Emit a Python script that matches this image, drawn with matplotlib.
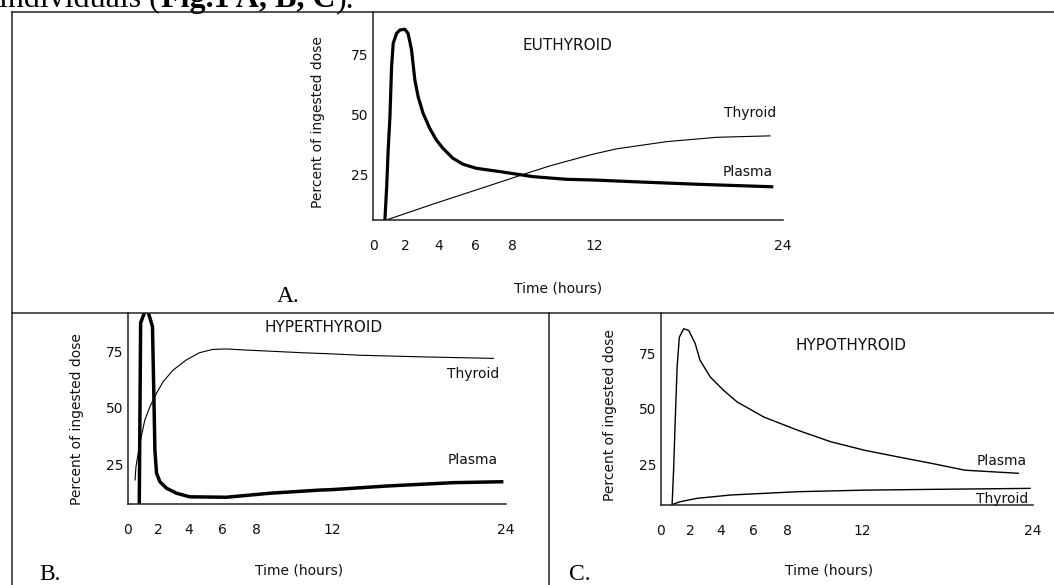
import numpy as np
import matplotlib
matplotlib.use("Agg")
import matplotlib.pyplot as plt
from matplotlib.lines import Line2D

plt.rcParams['font.family'] = ['DejaVu Sans']

# ---- data (hours, percent of ingested dose) ----
HOUR_TICKS = [0, 2, 4, 6, 8, 12, 24]
PCT_TICKS = [25, 50, 75]

eu_plasma_h = [0.73, 0.84, 0.93, 1.04, 1.14, 1.24, 1.45, 1.65, 1.95, 2.15, 2.36, 2.56, 2.76,
               3.06, 3.46, 3.86, 4.24, 4.78, 5.33, 6.06, 7.32, 9.0, 10.64, 12.0, 14.48, 18.72, 23.28]
eu_plasma = [6.3, 20.1, 35.4, 49.3, 70.1, 79.9, 84.0, 85.4, 85.7, 84.0, 77.1, 64.6, 57.6,
             50.7, 44.5, 39.6, 36.1, 32.0, 29.5, 27.8, 26.4, 24.3, 23.2, 22.9, 22.2, 21.1, 20.1]
eu_thyroid_h = [0.84, 3.63, 6.42, 8.68, 9.82, 11.46, 12.0, 13.42, 16.6, 19.78, 23.17]
eu_thyroid = [6.3, 12.8, 19.7, 25.7, 28.8, 32.6, 33.8, 35.9, 38.9, 40.7, 41.3]

hyper_plasma_h = [0.75, 0.84, 1.24, 1.63, 1.74, 1.79, 1.90, 2.12, 2.56, 3.21, 4.07, 6.24,
                  8.7, 11.36, 12.0, 15.77, 20.37, 23.7]
hyper_plasma = [7.1, 87.8, 95.0, 86.1, 49.0, 31.2, 20.9, 17.1, 14.2, 12.0, 10.4, 10.2,
                12.0, 13.4, 13.6, 15.2, 16.7, 17.1]
hyper_thyroid_h = [0.47, 0.53, 0.79, 1.12, 1.46, 1.90, 2.33, 2.99, 3.86, 4.64, 5.45, 6.24,
                   7.41, 10.47, 12.0, 13.93, 18.07, 23.13]
hyper_thyroid = [17.9, 23.8, 34.2, 44.6, 50.5, 56.5, 61.6, 66.8, 71.3, 74.5, 76.0, 76.2,
                 75.7, 74.5, 74.0, 73.4, 72.7, 72.0]

hypo_plasma_h = [0.75, 0.86, 0.97, 1.09, 1.24, 1.53, 1.88, 2.1, 2.31, 2.63, 3.32, 4.19, 5.0,
                 6.59, 8.54, 10.33, 12.18, 14.53, 16.87, 19.22, 22.97]
hypo_plasma = [6.7, 23.9, 46.4, 68.9, 82.4, 86.2, 85.4, 82.4, 79.5, 72.0, 64.4, 58.4, 53.2,
               46.4, 40.4, 35.2, 31.4, 28.4, 25.5, 22.4, 21.0]
hypo_thyroid_h = [0.75, 1.31, 2.43, 4.6, 8.54, 12.18, 16.87, 23.79]
hypo_thyroid = [6.9, 8.2, 9.7, 11.2, 12.7, 13.4, 13.75, 14.2]

# the original time axis is not linear: 0-8 h spread out, 12 and 24 squeezed
AXIS_FRAC = [0, 0.0795, 0.160, 0.249, 0.341, 0.540, 1.0]


def fwd(h):
    return np.interp(h, HOUR_TICKS, AXIS_FRAC)


def inv(f):
    return np.interp(f, AXIS_FRAC, HOUR_TICKS)


W, H = 1054, 585
fig = plt.figure(figsize=(W / 100, H / 100), dpi=100)


def px(x, y):
    return x / W, 1 - y / H


def panel(left, right, top, bottom, ylim):
    ax = fig.add_axes([left / W, 1 - bottom / H, (right - left) / W, (bottom - top) / H])
    ax.set_facecolor('none')
    ax.set_xscale('function', functions=(fwd, inv))
    ax.set_xlim(0, 24)
    ax.set_ylim(*ylim)
    ax.set_xticks(HOUR_TICKS)
    ax.set_xticklabels([str(t) for t in HOUR_TICKS])
    ax.set_yticks(PCT_TICKS)
    ax.minorticks_off()
    ax.tick_params(length=0, labelsize=10, colors='#111')
    ax.tick_params(axis='x', pad=14)
    ax.tick_params(axis='y', pad=3)
    for s in ['top', 'right']:
        ax.spines[s].set_visible(False)
    for s in ['left', 'bottom']:
        ax.spines[s].set_linewidth(1.1)
        ax.spines[s].set_color('#222')
    return ax


# A. euthyroid
axA = panel(373, 783, 12, 220, (6.25, 92.9))
axA.plot(eu_plasma_h, eu_plasma, color='black', lw=2.3, solid_joinstyle='round')
axA.plot(eu_thyroid_h, eu_thyroid, color='black', lw=0.8)

# B. hyperthyroid
axB = panel(128, 506, 313, 504, (7.2, 92.2))
axB.plot(hyper_plasma_h, hyper_plasma, color='black', lw=2.5, solid_joinstyle='round')
axB.plot(hyper_thyroid_h, hyper_thyroid, color='black', lw=0.8)

# C. hypothyroid
axC = panel(661, 1033, 313, 505, (6.7, 93.3))
axC.plot(hypo_plasma_h, hypo_plasma, color='black', lw=1.0)
axC.plot(hypo_thyroid_h, hypo_thyroid, color='black', lw=1.0)

# texts
for (x, y, s) in [(567, 46, "EUTHYROID"), (324, 327, "HYPERTHYROID"), (851, 345, "HYPOTHYROID")]:
    fig.text(*px(x, y), s, fontsize=11, ha='center', va='center', color='#111')

for (x, y, s) in [(750, 113, "Thyroid"), (748, 172, "Plasma"),
                  (473, 374, "Thyroid"), (473, 460, "Plasma"),
                  (1002, 461, "Plasma"), (1002, 499, "Thyroid"),
                  (558, 288, "Time (hours)"), (299, 570, "Time (hours)"), (829, 570, "Time (hours)")]:
    fig.text(*px(x, y), s, fontsize=10, ha='center', va='center', color='#111')

for (x, y) in [(318, 122), (77, 419), (610, 415)]:
    fig.text(*px(x, y), "Percent of ingested dose", fontsize=10, rotation=90,
             ha='center', va='center', color='#111')

for (x, y, s) in [(288, 297, "A."), (50, 574, "B."), (580, 574, "C.")]:
    fig.text(*px(x, y), s, fontsize=17, family='Liberation Serif', ha='center', va='center')

# frame lines of the figure box
frame = dict(color='#222', lw=1.1)
fig.add_artist(Line2D([12 / W, 1], [1 - 12 / H] * 2, **frame))
fig.add_artist(Line2D([12 / W, 1], [1 - 313 / H] * 2, **frame))
fig.add_artist(Line2D([12 / W] * 2, [1 - 12 / H, 0], **frame))
fig.add_artist(Line2D([549 / W] * 2, [1 - 313 / H, 0], **frame))

# caption text above, cut off at the top in the source
renderer = fig.canvas.get_renderer()
xpos = -1 / W
for s, w in [("individuals (", 'normal'), ("Fig.1 A, B, C", 'bold'), (").", 'normal')]:
    t = fig.text(xpos, 1 - 7 / H, s, fontsize=23, family='Liberation Serif',
                 fontweight=w, va='baseline', ha='left')
    bb = t.get_window_extent(renderer)
    xpos = bb.x1 / W + 1 / W

fig.savefig("out.png", dpi=100)
